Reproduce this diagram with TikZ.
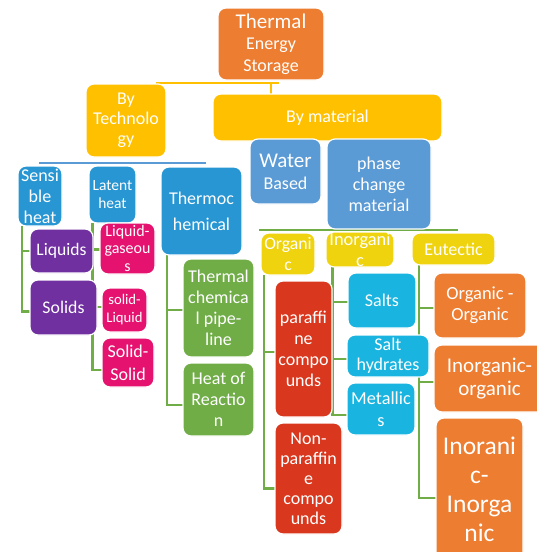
\documentclass[tikz,border=0pt]{standalone}
\usepackage{fontspec}
\setmainfont{Carlito}
\usetikzlibrary{backgrounds}
\definecolor{cOrange}{HTML}{ED7D31}
\definecolor{cYellow}{HTML}{FFC000}
\definecolor{cGold}{HTML}{EFD30F}
\definecolor{cBlue}{HTML}{2796D3}
\definecolor{cLBlue}{HTML}{5B9BD5}
\definecolor{cRed}{HTML}{D9381E}
\definecolor{cCyan}{HTML}{19B4DF}
\definecolor{cPurple}{HTML}{7030A0}
\definecolor{cPink}{HTML}{E5136F}
\definecolor{cGreen}{HTML}{70AD47}
\newcommand\fs[2]{\fontsize{#1}{#2}\selectfont}
\newcommand\mybox[8]{%
  \node[box, fill=#6, minimum width={#4-#2}, minimum height={#5-#3}] (#1) at ({(#2+#4)/2},{(#3+#5)/2}) {};
  \node[lbl, font=#7] (#1-t) at (#1.center) {#8};
}
\tikzset{
  box/.style={draw=white, line width=1.2pt, rounded corners=8pt, inner sep=0pt, outer sep=0pt},
  lbl/.style={text=white, align=center, inner sep=0pt},
  gline/.style={draw=cGreen, line width=2.5pt},
  bline/.style={draw=cLBlue, line width=2pt},
  yline/.style={draw=cYellow, line width=2.5pt},
}
\begin{document}
\begin{tikzpicture}[x=1pt,y=-1pt]
\clip (0,0) rectangle (537,552);
% ---- boxes ----
\mybox{tes}{218}{8}{324}{80}{cOrange}{\fs{18}{21.5}}{{\fs{21}{22}Thermal}\\Energy\\Storage}
\mybox{bytech}{86}{84}{166}{157}{cYellow}{\fs{18}{20}}{By\\Technolo\\gy}
\mybox{bymat}{213}{94}{442}{141}{cYellow}{\fs{18}{21}}{By material}
\mybox{sens}{18}{166}{62}{226}{cBlue}{\fs{18}{21}}{Sensi\\ble\\heat}
\mybox{lat}{89}{166}{136}{223}{cBlue}{\fs{15.5}{18}}{Latent\\heat}
\mybox{thermo}{161}{167}{242}{255}{cBlue}{\fs{18}{26}}{Thermoc\\hemical}
\mybox{water}{250}{139}{321}{204}{cLBlue}{\fs{18}{22}}{{\fs{21}{22}Water}\\Based}
\mybox{pcm}{327}{139}{431}{229}{cLBlue}{\fs{18}{21}}{phase\\change\\material}
\mybox{org}{261}{233}{315}{275}{cGold}{\fs{17.7}{21}}{Organi\\c}
\mybox{inorg}{326}{232}{394}{267}{cGold}{\fs{18.4}{21}}{Inorgani\\c}
\mybox{eut}{412}{233}{495}{265}{cGold}{\fs{18}{21}}{Eutectic}
\mybox{par}{275}{281}{332}{417}{cRed}{\fs{18}{21}}{paraffi\\ne\\compo\\unds}
\mybox{nonp}{275}{423}{342}{534}{cRed}{\fs{18}{20}}{Non-\\paraffin\\e\\compo\\unds}
\mybox{salts}{348}{273}{416}{328}{cCyan}{\fs{18}{21}}{Salts}
\mybox{sh}{347}{335}{429}{377}{cCyan}{\fs{18}{20}}{Salt\\hydrates}
\mybox{met}{347}{383}{415}{435}{cCyan}{\fs{18.3}{22}}{Metallic\\s}
\mybox{oo}{434}{273}{526}{338}{cOrange}{\fs{18.5}{21}}{Organic -\\Organic}
\mybox{io}{434}{345}{545}{412}{cOrange}{\fs{21}{23}}{Inorganic-\\organic}
\mybox{ii}{436}{418}{523}{560}{cOrange}{\fs{25.5}{29}}{Inorani\\c-\\Inorga\\nic}
\mybox{liq}{30}{229}{93}{273}{cPurple}{\fs{17.6}{21}}{Liquids}
\mybox{sol}{30}{280}{97}{335}{cPurple}{\fs{17.8}{21}}{Solids}
\mybox{lg}{100}{223}{155}{274}{cPink}{\fs{16}{17.5}}{Liquid-\\gaseou\\s}
\mybox{sl}{102}{288}{147}{332}{cPink}{\fs{14.7}{18}}{solid-\\Liquid}
\mybox{ss}{102}{338}{154}{387}{cPink}{\fs{18}{23}}{Solid-\\Solid}
\mybox{tcp}{183}{259}{254}{357}{cGreen}{\fs{18}{21}}{Thermal\\chemica\\l pipe-\\line}
\mybox{hor}{183}{363}{254}{436}{cGreen}{\fs{18}{21}}{Heat of\\Reactio\\n}
% ---- connectors (behind boxes) ----
\begin{scope}[on background layer]
\fill[white] (0,0) rectangle (537,552);
% top level
\draw[yline] ([xshift=-115,yshift=-3]tes.south) -- ([xshift=8,yshift=-3]tes.south);
\draw[yline] ([yshift=-3]tes.south) -- (tes.south |- bymat.north);
% by technology
\coordinate (tb) at (0,163);
\draw[bline] ([xshift=-1]tb -| sens.north) -- ([xshift=4]tb -| thermo.north);
% sensible heat
\draw[gline] ([xshift=4]sens.south west) |- (liq.west);
\draw[gline] ([xshift=4]sens.south west) |- ([yshift=-4]sol.west);
% latent heat
\draw[gline] ([xshift=3.5]lat.south west) |- ([yshift=-1]lg.west);
\draw[gline] ([xshift=3.5]lat.south west) |- ([yshift=3]sl.west);
\draw[gline] ([xshift=3.5]lat.south west) |- ([yshift=-7.5]ss.west);
% thermochemical
\draw[gline] ([xshift=6]thermo.south west) |- ([yshift=-2]tcp.west);
\draw[gline] ([xshift=6]thermo.south west) |- ([yshift=-5.5]hor.west);
% phase change material
\coordinate (tp) at (0,230);
\draw[gline] ([xshift=-2]tp -| org.west) -- ([xshift=4]tp -| eut.north);
% organic
\draw[gline] ([xshift=3]org.south west) |- ([yshift=-3]par.west);
\draw[gline] ([xshift=3]org.south west) |- ([yshift=-10]nonp.west);
% inorganic
\draw[gline] ([xshift=6.5]inorg.south west) |- ([yshift=-1.5]salts.west);
\draw[gline] ([xshift=6.5]inorg.south west) |- ([yshift=-3]sh.west);
\draw[gline] ([xshift=6.5]inorg.south west) |- ([yshift=-6]met.west);
% eutectic
\draw[gline] ([xshift=7]eut.south west) |- ([yshift=-2.5]oo.west);
\draw[gline] ([xshift=7]eut.south west) |- ([yshift=-3.5]io.west);
\draw[gline] ([xshift=7]eut.south west) |- ([yshift=-9]ii.west);
\end{scope}
\end{tikzpicture}
\end{document}
